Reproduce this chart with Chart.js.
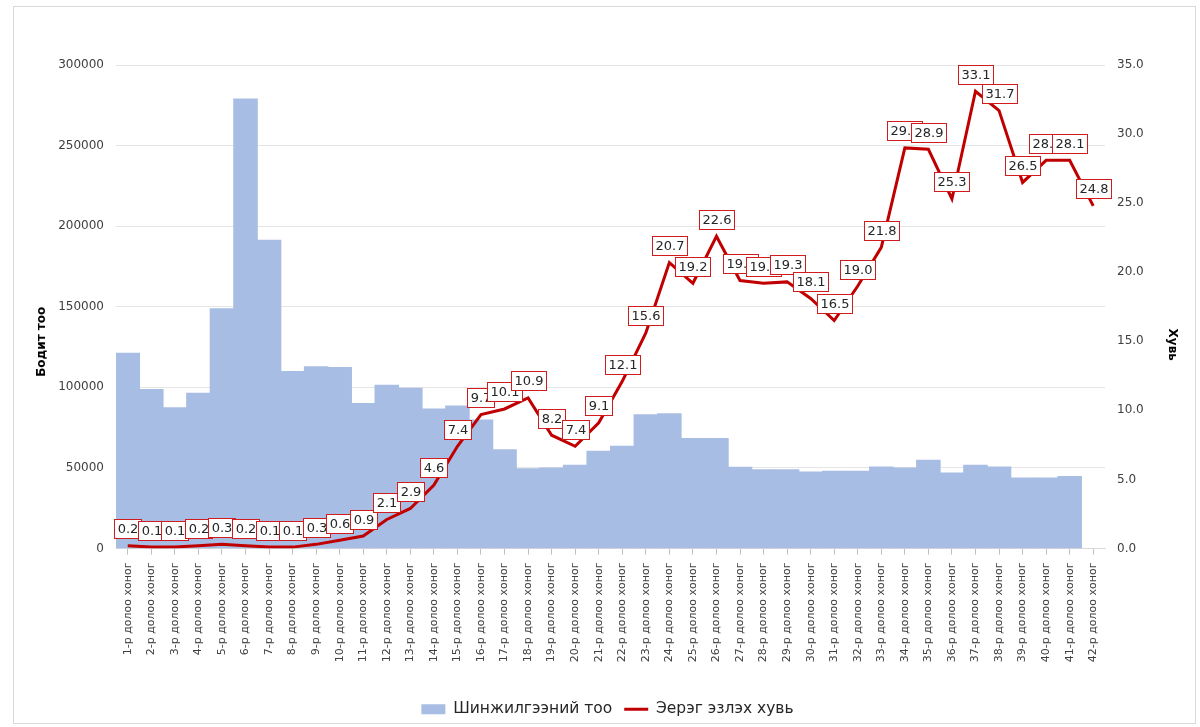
<!DOCTYPE html>
<html>
<head>
<meta charset="utf-8">
<script src="https://cdn.jsdelivr.net/npm/chart.js@4.4.0/dist/chart.umd.min.js"></script>
<style>
  html, body { margin: 0; padding: 0; background: #fff; }
  #wrap { width: 1200px; height: 727px; }
</style>
</head>
<body>
<div id="wrap"><canvas id="chart" width="1200" height="727"></canvas></div>
<script>
// weekly data
const weeks = [];
for (let i = 1; i <= 42; i++) weeks.push(i + '-р долоо хоног');

const testCounts = [
  121200, 98600, 87400, 96300, 148800, 278900, 191200, 109800, 112800, 112300,
  89900, 101300, 99400, 86500, 88400, 79700, 61300, 49500, 49900, 51700,
  60400, 63500, 83000, 83600, 68300, 68300, 50400, 48800, 48800, 47400,
  48000, 48000, 50500, 49900, 54700, 46800, 51600, 50500, 43800, 43800,
  44600, null
];

const positiveShare = [
  0.2, 0.1, 0.1, 0.2, 0.3, 0.2, 0.1, 0.1, 0.3, 0.6,
  0.9, 2.1, 2.9, 4.6, 7.4, 9.7, 10.1, 10.9, 8.2, 7.4,
  9.1, 12.1, 15.6, 20.7, 19.2, 22.6, 19.4, 19.2, 19.3, 18.1,
  16.5, 19.0, 21.8, 29.0, 28.9, 25.3, 33.1, 31.7, 26.5, 28.1,
  28.1, 24.8
];

const seriesNames = ['Шинжилгээний тоо', 'Эерэг эзлэх хувь'];
const axisTitles = ['Бодит тоо', 'Хувь'];

const barColor = '#a8bde3';
const lineColor = '#c00000';
const FONT = '"DejaVu Sans", Verdana, sans-serif';

const framePlugin = {
  id: 'frame',
  beforeDraw(chart) {
    const c = chart.ctx;
    c.save();
    c.fillStyle = '#fff';
    c.fillRect(0, 0, chart.width, chart.height);
    c.strokeStyle = '#d9d9d9';
    c.lineWidth = 1;
    c.strokeRect(13.5, 6.5, 1182, 717);
    c.restore();
  }
};

// axis titles sit a bit below the plot centre, like the original
const titlePlugin = {
  id: 'axisTitles',
  afterDraw(chart) {
    const c = chart.ctx;
    const mid = (chart.chartArea.top + chart.chartArea.bottom) / 2 + 35;
    c.save();
    c.font = 'bold 12px ' + FONT;
    c.fillStyle = '#000';
    c.textAlign = 'center';
    c.textBaseline = 'middle';
    c.translate(42, mid);
    c.rotate(-Math.PI / 2);
    c.fillText(axisTitles[0], 0, 0);
    c.restore();
    c.save();
    c.font = 'bold 12px ' + FONT;
    c.fillStyle = '#000';
    c.textAlign = 'center';
    c.textBaseline = 'middle';
    c.translate(1172, mid + 3);
    c.rotate(Math.PI / 2);
    c.fillText(axisTitles[1], 0, 0);
    c.restore();
  }
};

const labelPlugin = {
  id: 'pctLabels',
  afterDraw(chart) {
    const meta = chart.getDatasetMeta(1);
    const c = chart.ctx;
    c.save();
    c.font = '13px ' + FONT;
    c.textAlign = 'center';
    c.textBaseline = 'middle';
    meta.data.forEach((pt, i) => {
      const v = positiveShare[i];
      if (v == null) return;
      const txt = v.toFixed(1);
      const w = Math.round(c.measureText(txt).width) + 6;
      const h = 19;
      const x0 = Math.round(pt.x - w / 2) + 0.5;
      const y0 = Math.round(pt.y - 17 - h / 2) + 0.5;
      c.fillStyle = '#fff';
      c.fillRect(x0, y0, w, h);
      c.strokeStyle = '#d01c1c';
      c.lineWidth = 1;
      c.strokeRect(x0, y0, w, h);
      c.fillStyle = '#262626';
      c.fillText(txt, x0 + w / 2, y0 + h / 2 + 1);
    });
    c.restore();
  }
};

new Chart(document.getElementById('chart'), {
  type: 'bar',
  data: {
    labels: weeks,
    datasets: [
      {
        type: 'bar',
        label: seriesNames[0],
        data: testCounts,
        backgroundColor: barColor,
        borderWidth: 0,
        inflateAmount: 0.5,
        barPercentage: 1,
        categoryPercentage: 1,
        yAxisID: 'y',
        order: 2
      },
      {
        type: 'line',
        label: seriesNames[1],
        data: positiveShare,
        borderColor: lineColor,
        backgroundColor: lineColor,
        borderWidth: 3,
        pointRadius: 0,
        tension: 0,
        yAxisID: 'y1',
        order: 1
      }
    ]
  },
  options: {
    responsive: false,
    animation: false,
    layout: { padding: { top: 65, left: 30, right: 15, bottom: 0 } },
    plugins: {
      tooltip: { enabled: false },
      legend: {
        position: 'bottom',
        labels: {
          font: { family: FONT, size: 15.5 },
          color: '#262626',
          usePointStyle: true,
          pointStyleWidth: 24,
          boxHeight: 10,
          padding: 12,
          generateLabels: () => [
            { text: seriesNames[0], fillStyle: barColor, strokeStyle: barColor, lineWidth: 0, pointStyle: 'rect', datasetIndex: 0, fontColor: '#262626' },
            { text: seriesNames[1], fillStyle: lineColor, strokeStyle: lineColor, lineWidth: 3, pointStyle: 'line', datasetIndex: 1, fontColor: '#262626' }
          ]
        }
      }
    },
    scales: {
      x: {
        grid: { display: true, drawOnChartArea: false, offset: false, tickLength: 6, color: '#bfbfbf' },
        border: { display: true, color: '#d9d9d9' },
        ticks: {
          font: { family: FONT, size: 11 },
          color: '#404040',
          minRotation: 90,
          maxRotation: 90,
          autoSkip: false,
          padding: 8
        },
        afterFit: s => { s.height = 141; }
      },
      y: {
        position: 'left',
        z: 1,
        min: 0,
        max: 300000,
        ticks: {
          stepSize: 50000,
          font: { family: FONT, size: 12 },
          color: '#404040',
          padding: 12,
          callback: v => String(v)
        },
        grid: { color: 'rgba(0,0,0,0.1)', drawTicks: false },
        border: { display: false },
        afterFit: s => { s.width = 86; }
      },
      y1: {
        position: 'right',
        min: 0,
        max: 35,
        ticks: {
          stepSize: 5,
          font: { family: FONT, size: 12 },
          color: '#404040',
          padding: 12,
          callback: v => Number(v).toFixed(1)
        },
        grid: { drawOnChartArea: false, drawTicks: false },
        border: { display: false },
        afterFit: s => { s.width = 80; }
      }
    }
  },
  plugins: [framePlugin, titlePlugin, labelPlugin]
});
</script>
</body>
</html>
